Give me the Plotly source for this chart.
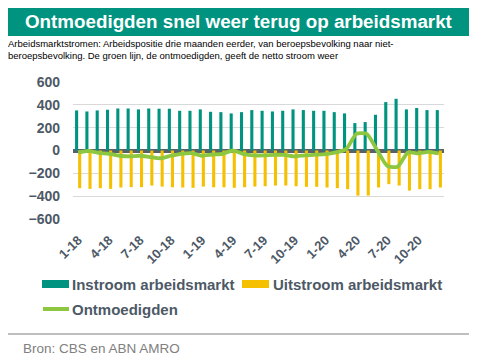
import plotly.graph_objects as go

months = [f"{m}-{y}" for y in (18, 19, 20) for m in range(1, 13)]
tick_vals = [f"{m}-{y}" for y in (18, 19, 20) for m in (1, 4, 7, 10)]
tick_text = tick_vals

instroom = [351, 342, 351, 357, 368, 368, 360, 368, 366, 366, 348, 348,
            360, 339, 336, 325, 336, 354, 348, 342, 348, 360, 354, 348,
            348, 336, 325, 240, 249, 313, 424, 453, 360, 372, 354, 354]
uitstroom = [-330, -336, -330, -336, -324, -321, -321, -307, -316, -322, -324, -327,
             -316, -322, -322, -327, -322, -316, -313, -307, -307, -313, -318, -318,
             -324, -330, -339, -395, -395, -324, -295, -307, -351, -339, -339, -324]
ontmoedigden = [-17, -3, -20, -29, -46, -52, -46, -58, -68, -46, -29, -23,
                -46, -35, -29, 0, -29, -43, -43, -38, -38, -52, -42, -37,
                -32, -17, 12, 146, 146, 5, -135, -142, -17, -26, -12, -26]

TEAL = "#00937f"
YELLOW = "#f5c000"
GREEN = "#8dc63f"
TXT = "#4d5966"
FONT = "Liberation Sans, Arial, sans-serif"

OFF = 8  # page body margin
W, H = 484 - OFF, 361 - OFF
# plot area in screen pixels: x 73..444, y 82..219
L, R = 73 - OFF, 484 - 444
T, B = 82 - OFF, 361 - 219
PW, PH = W - L - R, H - T - B


def px2x(x):
    return (x - OFF - L) / PW


def px2y(y):
    return (H - B - (y - OFF)) / PH


fig = go.Figure()
fig.add_trace(go.Bar(x=months, y=instroom, name="Instroom arbeidsmarkt",
                     marker=dict(color=TEAL, line=dict(width=0))))
fig.add_trace(go.Bar(x=months, y=uitstroom, name="Uitstroom arbeidsmarkt",
                     marker=dict(color=YELLOW, line=dict(width=0))))
fig.add_trace(go.Scatter(x=months, y=ontmoedigden, name="Ontmoedigden", mode="lines",
                         line=dict(color=GREEN, width=3.8, shape="spline", smoothing=0.6)))

shapes = [
    dict(type="rect", xref="paper", yref="paper", x0=px2x(8), x1=px2x(469),
         y0=px2y(36), y1=px2y(7), fillcolor=TEAL, line=dict(width=0), layer="below"),
    dict(type="rect", xref="paper", yref="paper", x0=px2x(42), x1=px2x(69),
         y0=px2y(288), y1=px2y(280), fillcolor=TEAL, line=dict(width=0)),
    dict(type="rect", xref="paper", yref="paper", x0=px2x(242), x1=px2x(269),
         y0=px2y(288), y1=px2y(280), fillcolor=YELLOW, line=dict(width=0)),
    dict(type="line", xref="paper", yref="paper", x0=px2x(43), x1=px2x(69),
         y0=px2y(309), y1=px2y(309), line=dict(color=GREEN, width=4)),
    dict(type="line", xref="paper", yref="paper", x0=px2x(8), x1=px2x(469),
         y0=px2y(334), y1=px2y(334), line=dict(color="#bfbfbf", width=2)),
]

annotations = [
    dict(text="<b>Ontmoedigden snel weer terug op arbeidsmarkt</b>", xref="paper", yref="paper",
         x=px2x(239), y=px2y(21.5), xanchor="center", yanchor="middle", showarrow=False,
         font=dict(family=FONT, size=18.8, color="white")),
    dict(text="Arbeidsmarktstromen: Arbeidspositie drie maanden eerder, van beroepsbevolking naar niet-<br>"
              "beroepsbevolking. De groen lijn, de ontmoedigden, geeft de netto stroom weer",
         xref="paper", yref="paper", x=px2x(6), y=px2y(36), xanchor="left", yanchor="top",
         align="left", showarrow=False, font=dict(family=FONT, size=9.5, color="black")),
    dict(text="<b>Instroom arbeidsmarkt</b>", xref="paper", yref="paper", x=px2x(70), y=px2y(284.5),
         xanchor="left", yanchor="middle", showarrow=False, font=dict(family=FONT, size=15, color=TXT)),
    dict(text="<b>Uitstroom arbeidsmarkt</b>", xref="paper", yref="paper", x=px2x(271), y=px2y(284.5),
         xanchor="left", yanchor="middle", showarrow=False, font=dict(family=FONT, size=15, color=TXT)),
    dict(text="<b>Ontmoedigden</b>", xref="paper", yref="paper", x=px2x(70), y=px2y(309),
         xanchor="left", yanchor="middle", showarrow=False, font=dict(family=FONT, size=15, color=TXT)),
    dict(text="Bron: CBS en ABN AMRO", xref="paper", yref="paper", x=px2x(21), y=px2y(348.5),
         xanchor="left", yanchor="middle", showarrow=False, font=dict(family=FONT, size=13.5, color="#808080")),
]

fig.update_layout(
    width=W, height=H, autosize=False,
    margin=dict(l=L, r=R, t=T, b=B),
    paper_bgcolor="white", plot_bgcolor="white",
    barmode="group", bargap=0.4, bargroupgap=0,
    showlegend=False,
    shapes=shapes, annotations=annotations,
    font=dict(family=FONT, color=TXT),
    xaxis=dict(type="category", categoryorder="array", categoryarray=months,
               tickmode="array", tickvals=tick_vals, ticktext=tick_text,
               tickangle=-45, showgrid=False, showline=False, ticks="",
               tickfont=dict(family=FONT, size=13, color=TXT, weight="bold"),
               ticklabelstandoff=10, range=[-0.5, 35.5]),
    yaxis=dict(range=[-600, 600], tickvals=[-600, -400, -200, 0, 200, 400, 600],
               showgrid=True, gridcolor="#d9d9d9", gridwidth=1,
               zeroline=True, zerolinecolor="#56616b", zerolinewidth=4,
               showline=False, ticks="",
               tickfont=dict(family=FONT, size=14, color=TXT, weight="bold"),
               ticklabelstandoff=12),
)

fig.write_html("out.html")
